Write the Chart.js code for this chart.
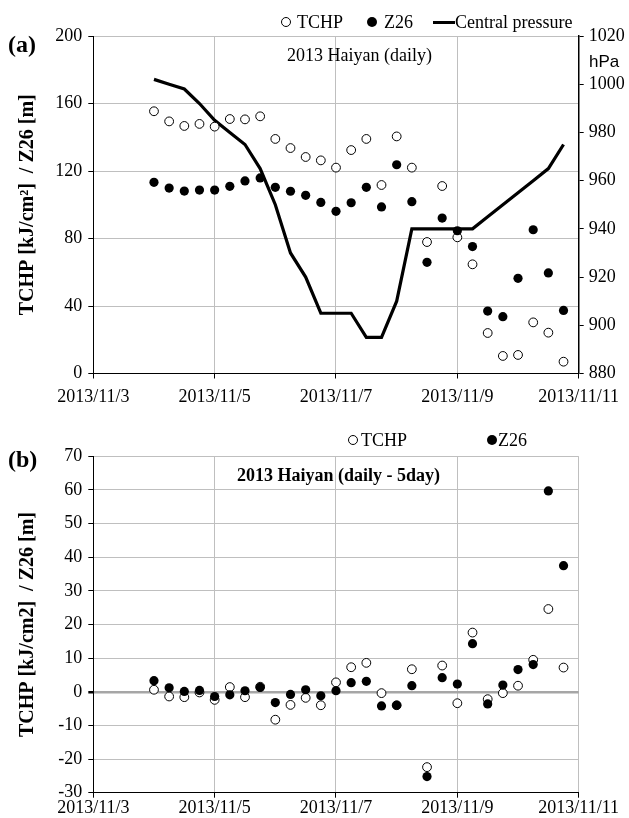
<!DOCTYPE html>
<html><head><meta charset="utf-8">
<script src="https://cdn.jsdelivr.net/npm/chart.js@4.4.1/dist/chart.umd.min.js"></script>
<style>
html,body{margin:0;padding:0;background:#fff;}
#wrap{position:relative;width:629px;height:818px;overflow:hidden;font-family:'Liberation Serif','Times New Roman',serif;color:#000;}
canvas{position:absolute;left:0;}
.t{position:absolute;white-space:nowrap;height:24px;line-height:24px;}
.oc{position:absolute;width:8px;height:8px;border:1px solid #000;border-radius:50%;background:#fff;}
.fc{position:absolute;width:10px;height:10px;border-radius:50%;background:#000;}
.ln{position:absolute;height:3.5px;background:#000;}
</style></head><body>
<div id="wrap">
<canvas id="ca" width="629" height="410" style="top:0"></canvas>
<canvas id="cb" width="629" height="408" style="top:410px"></canvas>

<div class="t" style="left:8px;top:32px;font-size:24px;font-weight:bold;">(a)</div>
<div class="oc" style="left:281px;top:17px;"></div>
<div class="t" style="left:297px;top:10px;font-size:18px;">TCHP</div>
<div class="fc" style="left:367px;top:17px;"></div>
<div class="t" style="left:384px;top:10px;font-size:18px;">Z26</div>
<div class="ln" style="left:433px;top:20.5px;width:22px;"></div>
<div class="t" style="left:455px;top:10px;font-size:18px;">Central pressure</div>
<div class="t" style="left:287px;top:43px;font-size:18px;">2013 Haiyan (daily)</div>
<div class="t" style="left:589px;top:50px;font-size:17px;font-family:'Liberation Sans',Arial,sans-serif;">hPa</div>

<div class="t" style="left:8px;top:447px;font-size:24px;font-weight:bold;">(b)</div>
<div class="oc" style="left:348px;top:435px;"></div>
<div class="t" style="left:361px;top:428px;font-size:18px;">TCHP</div>
<div class="fc" style="left:487px;top:435px;"></div>
<div class="t" style="left:498px;top:428px;font-size:18px;">Z26</div>
<div class="t" style="left:237px;top:463px;font-size:18px;font-weight:bold;">2013 Haiyan (daily - 5day)</div>
</div>
<script>
// ---- data ----
const times = ['2013/11/4 00:00','2013/11/4 06:00','2013/11/4 12:00','2013/11/4 18:00',
  '2013/11/5 00:00','2013/11/5 06:00','2013/11/5 12:00','2013/11/5 18:00',
  '2013/11/6 00:00','2013/11/6 06:00','2013/11/6 12:00','2013/11/6 18:00',
  '2013/11/7 00:00','2013/11/7 06:00','2013/11/7 12:00','2013/11/7 18:00',
  '2013/11/8 00:00','2013/11/8 06:00','2013/11/8 12:00','2013/11/8 18:00',
  '2013/11/9 00:00','2013/11/9 06:00','2013/11/9 12:00','2013/11/9 18:00',
  '2013/11/10 00:00','2013/11/10 06:00','2013/11/10 12:00','2013/11/10 18:00'];
const tchpDaily = [155.4,149.4,146.7,147.9,146.3,150.8,150.6,152.4,139.0,133.6,128.3,126.3,122.0,132.4,
  139.0,111.7,140.5,122.0,77.9,111.1,80.7,64.7,24.0,10.4,11.0,30.3,24.2,7.0];
const z26Daily = [113.3,109.9,108.1,108.7,108.7,110.9,114.1,115.9,110.3,108.0,105.6,101.4,96.1,101.2,
  110.3,98.7,123.7,101.8,65.9,92.1,84.6,75.2,37.0,33.7,56.4,85.2,59.6,37.4];
const centralPressure = [1002,1000,998,992,985,980,975,965,950,930,920,905,905,905,
  895,895,910,940,940,940,940,940,945,950,955,960,965,975];
const tchpAnomaly = [0.6,-1.4,-1.6,-0.2,-2.4,1.4,-1.6,1.5,-8.3,-3.9,-1.8,-4.0,2.8,7.3,
  8.6,-0.4,-4.0,6.7,-22.4,7.8,-3.4,17.6,-2.2,-0.4,1.8,9.5,24.6,7.2];
const z26Anomaly = [3.3,1.2,0.1,0.4,-1.4,-0.9,0.3,1.3,-3.2,-0.8,0.6,-1.2,0.3,2.7,
  3.1,-4.2,-4.0,1.8,-25.2,4.2,2.3,14.3,-3.6,2.0,6.6,8.1,59.7,37.5];
const xTickLabels = ['2013/11/3','2013/11/5','2013/11/7','2013/11/9','2013/11/11'];

// ---- helpers ----
function toDay(s){ const p=s.split(' '); const d=+p[0].split('/')[2]; const h=+p[1].split(':')[0]; return d+h/24; }
const xs = times.map(toDay);
const pts = arr => arr.map((v,i)=>({x:xs[i],y:v}));
const SERIF = "'Liberation Serif','Times New Roman',serif";
Chart.defaults.color = '#000';
Chart.defaults.font.family = SERIF;
const tickFont = {family:SERIF,size:18};
const GRID = '#bfbfbf';
const plain = v => String(v);
const openPt = {pointRadius:4.4,pointHoverRadius:4.4,pointBorderWidth:1,pointBorderColor:'#000',pointBackgroundColor:'#fff',showLine:false};
const fillPt = {pointRadius:4.6,pointHoverRadius:4.6,pointBorderWidth:0,pointBorderColor:'#000',pointBackgroundColor:'#000',showLine:false};

function xAxis(h, pad){
  return {type:'linear',min:3,max:11,
    ticks:{stepSize:2,font:tickFont,padding:pad,maxRotation:0,autoSkip:false,
      callback:(v)=>{const i=[3,5,7,9,11].indexOf(v);return i>=0?xTickLabels[i]:'';}},
    grid:{color:GRID,tickColor:'#000',tickLength:5,lineWidth:1},
    border:{color:'#000',width:1},
    afterFit(s){s.height=h;s.paddingLeft=0;s.paddingRight=0;}};
}
function yTitle(text){
  return {display:true,text:text,font:{family:SERIF,size:20,weight:'bold'},padding:{top:16,bottom:0},color:'#000'};
}
const common = {responsive:false,animation:false,devicePixelRatio:1,
  plugins:{legend:{display:false},tooltip:{enabled:false}},events:[]};

new Chart(document.getElementById('ca'),{
  type:'scatter',
  data:{datasets:[
    Object.assign({label:'TCHP',data:pts(tchpDaily),yAxisID:'y',order:2},openPt),
    Object.assign({label:'Z26',data:pts(z26Daily),yAxisID:'y',order:1},fillPt),
    {label:'Central pressure',data:pts(centralPressure),yAxisID:'y2',order:3,showLine:true,
      borderColor:'#000',borderWidth:3.2,pointRadius:0,fill:false,tension:0}
  ]},
  options:Object.assign({},common,{
    layout:{padding:{top:36,left:0,right:0,bottom:0}},
    scales:{
      x:xAxis(36.5,8),
      y:{position:'left',min:0,max:200,
        ticks:{stepSize:40,font:tickFont,padding:6,callback:plain},
        grid:{color:GRID,tickColor:'#000',tickLength:5},
        border:{color:'#000',width:1},
        title:yTitle('TCHP [kJ/cm²]  / Z26 [m]'),
        afterFit(s){s.width=93.3;s.paddingTop=0;s.paddingBottom=0;}},
      y2:{position:'right',min:880,max:1020,
        ticks:{stepSize:20,font:tickFont,padding:5,callback:plain},
        grid:{drawOnChartArea:false,color:'#000',tickColor:'#000',tickLength:5},
        border:{color:'#000',width:1.5},
        afterFit(s){s.width=50.3;s.paddingTop=0;s.paddingBottom=0;}}
    }
  })
});

new Chart(document.getElementById('cb'),{
  type:'scatter',
  data:{datasets:[
    Object.assign({label:'TCHP',data:pts(tchpAnomaly),order:2},openPt),
    Object.assign({label:'Z26',data:pts(z26Anomaly),order:1},fillPt)
  ]},
  options:Object.assign({},common,{
    layout:{padding:{top:46.3,left:0,right:50.3,bottom:0}},
    scales:{
      x:xAxis(25.3,0),
      y:{position:'left',min:-30,max:70,
        ticks:{stepSize:10,font:tickFont,padding:6,callback:plain},
        grid:{color:(c)=>c.tick&&c.tick.value===0?'#a6a6a6':GRID,
              lineWidth:(c)=>c.tick&&c.tick.value===0?2.5:1,
              tickColor:'#000',tickLength:5},
        border:{color:'#000',width:1},
        title:yTitle('TCHP [kJ/cm2]  / Z26 [m]'),
        afterFit(s){s.width=93.3;s.paddingTop=0;s.paddingBottom=0;}}
    }
  })
});
</script>
</body></html>
